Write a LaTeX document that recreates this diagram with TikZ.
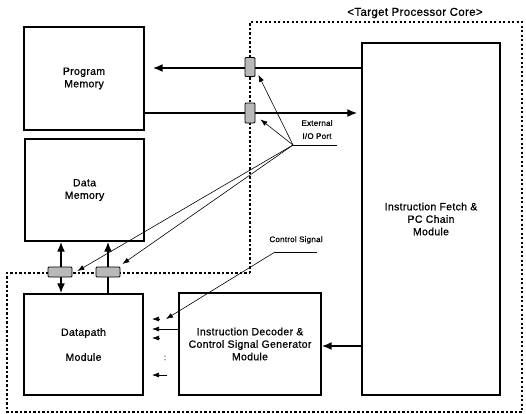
\documentclass[tikz,border=0pt]{standalone}
\usepackage{fontspec}
\setmainfont{Liberation Sans}[FakeBold=0.8,LetterSpace=3]
\usetikzlibrary{arrows.meta}
\begin{document}
\begin{tikzpicture}[x=1pt,y=-1pt,
  box/.style={draw,line width=1.3pt,align=center,font=\fontsize{10.5}{12.5}\selectfont,inner sep=0pt},
  port/.style={draw,line width=0.8pt,fill=gray!55,rounded corners=1pt,inner sep=0pt},
  bus/.style={line width=1.9pt,-{Latex[length=10pt,width=8pt]}},
  busboth/.style={line width=1.9pt,{Latex[length=10pt,width=8pt]}-{Latex[length=10pt,width=8pt]}},
  sig/.style={line width=0.6pt,-{Latex[length=7pt,width=5pt]}},
  plain/.style={line width=0.6pt},
  small/.style={font=\fontsize{8}{13}\selectfont,align=center,inner sep=0pt},
  border/.style={line width=2.3pt,dash pattern=on 2.2pt off 2.3pt}
]
\useasboundingbox (0,0) rectangle (526,413);

% processor core border
\draw[border] (250,273) -- (250,22) -- (522,22) -- (522,412) -- (7,412) -- (7,273) -- cycle;
\node[font=\fontsize{11.5}{13}\selectfont] (title) at (415,13) {<Target Processor Core>};

% boxes
\node[box,minimum width=120,minimum height=103] (pm) at (84,78.5) {Program\\Memory};
\node[box,minimum width=119,minimum height=102] (dm) at (84.5,190) {Data\\Memory};
\node[box,minimum width=119,minimum height=101,font=\fontsize{10.5}{25}\selectfont] (dp) at (83.5,344.5) {Datapath\\Module};
\node[box,minimum width=142,minimum height=102] (dec) at (250,344) {Instruction Decoder \&\\Control Signal Generator\\Module};
\node[box,minimum width=138,minimum height=352] (fetch) at (431,219) {Instruction Fetch \&\\PC Chain\\Module};

% buses
\draw[bus,shorten >=8pt] (fetch.west |- 0,68) -- (pm.east |- 0,68);
\draw[bus,shorten >=4pt] (pm.east |- 0,113) -- (fetch.west |- 0,113);
\draw[busboth] (dm.south -| 61,0) -- (dp.north -| 61,0);
\draw[bus] (dp.north -| 108,0) -- (dm.south -| 108,0);
\draw[bus] (fetch.west |- 0,346) -- (dec.east |- 0,346);

% ports
\node[port,minimum width=10,minimum height=19] (p1) at (250,67) {};
\node[port,minimum width=10,minimum height=20] (p2) at (250,113) {};
\node[port,minimum width=24,minimum height=10] (pa) at (60,272) {};
\node[port,minimum width=24,minimum height=10] (pb) at (108,272) {};

% external I/O port
\node[small] (iolab) at (317,129.5) {External\\I/O Port};
\coordinate (io) at (293,145);
\coordinate (ioend) at (337,145);
\draw[plain] (io) -- (ioend);
\draw[sig] (io) -- ([shift={(3,-2)}]p1.south east);
\draw[sig] (io) -- ([shift={(5,-4)}]p2.south east);
\draw[sig] (io) -- ([shift={(5,-1)}]pa.east);
\draw[sig] (io) -- ([shift={(2,-8)}]pb.east);

% control signals
\node[small] (cslab) at (296,240) {Control Signal};
\coordinate (cs) at (275,252);
\coordinate (csend) at (317,252);
\draw[plain] (cs) -- (csend);
\coordinate (c1) at (152,319);
\coordinate (c2) at (152,329);
\coordinate (c3) at (152,338);
\coordinate (c5) at (152,375);
\draw[sig] (cs) -- (166,319);
\draw[sig] (159,319) -- (c1);
\draw[sig] (dec.west |- c2) -- (c2);
\draw[sig] (159,338) -- (c3);
\node[small] (dots) at (165,358) {:};
\draw[sig] (167,375) -- (c5);
\end{tikzpicture}
\end{document}
